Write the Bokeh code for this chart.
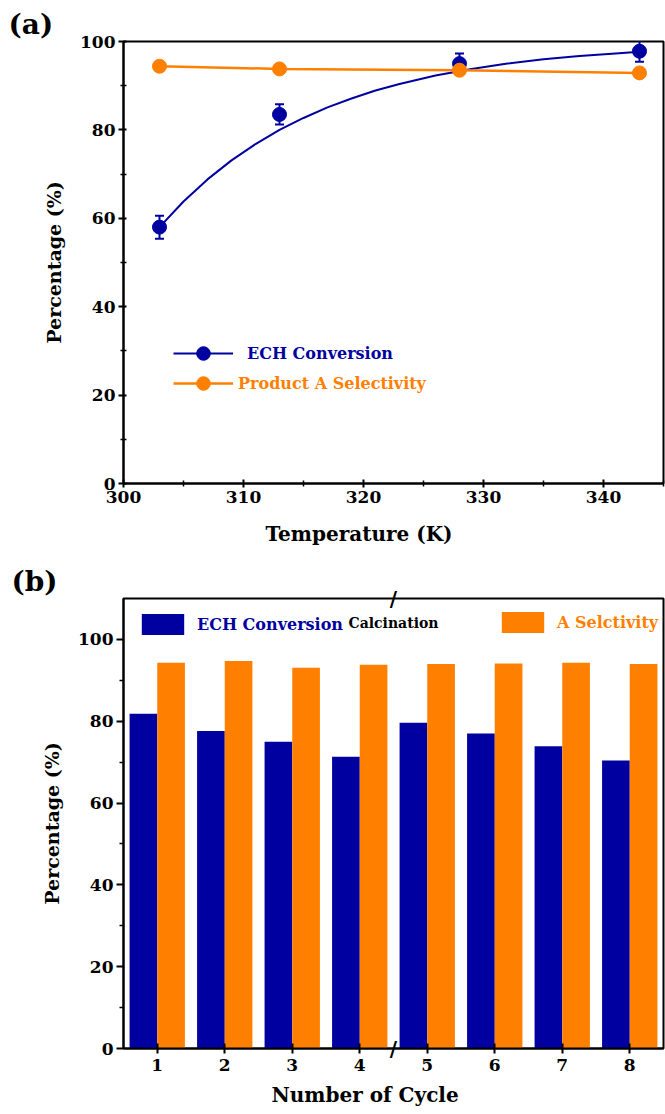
from bokeh.plotting import figure
from bokeh.layouts import column
from bokeh.models import (ColumnDataSource, Whisker, TeeHead, Legend, LegendItem,
                          Label, Range1d, FixedTicker, Title)
from bokeh.transform import dodge
from bokeh.embed import file_html
from bokeh.resources import INLINE

# ---------------- data (a) ----------------
temps = [303, 313, 328, 343]
ech_conv = [58.0, 83.5, 95.0, 97.8]
ech_err = [2.6, 2.3, 2.3, 2.4]
sel_A = [94.4, 93.8, 93.5, 92.9]
# fitted curve
fit_T = [303, 305, 307, 309, 311, 313, 315, 317, 319, 321, 323, 326, 329, 332, 335, 338, 341, 343]
fit_conv = [58.0, 63.8, 68.8, 73.1, 76.8, 80.0, 82.7, 85.1, 87.1, 88.9, 90.4, 92.3, 93.8, 95.0, 96.0, 96.7, 97.3, 97.7]
temp_ticks = [300, 310, 320, 330, 340]
temp_minor = [305, 315, 325, 335, 345]
pct_ticks_a = [0, 20, 40, 60, 80, 100]
pct_minor_a = [10, 30, 50, 70, 90]

# ---------------- data (b) ----------------
cycles = [1, 2, 3, 4, 5, 6, 7, 8]
cyc_conv = [81.8, 77.6, 75.0, 71.3, 79.6, 77.0, 73.9, 70.4]
cyc_sel = [94.3, 94.7, 93.1, 93.8, 94.0, 94.1, 94.3, 94.0]
calcination_x = 4.5
pct_ticks_b = [0, 20, 40, 60, 80, 100]
pct_minor_b = [10, 30, 50, 70, 90]

BLUE = "#0000A0"
ORANGE = "#FF8000"
FONT = "DejaVu Serif"


def style_axes(p, tick_size):
    for ax in (p.xaxis[0], p.yaxis[0]):
        ax.axis_line_width = 2
        ax.major_tick_line_width = 2
        ax.minor_tick_line_width = 1.5
        ax.major_label_text_font = FONT
        ax.major_label_text_font_style = "bold"
        ax.major_label_text_font_size = tick_size
        ax.major_label_text_color = "black"
        ax.axis_label_text_font = FONT
        ax.axis_label_text_font_style = "bold"
        ax.axis_label_text_color = "black"
    p.xgrid.visible = False
    p.ygrid.visible = False
    p.outline_line_color = "black"
    p.outline_line_width = 2
    p.title.text_font = FONT
    p.title.text_font_style = "bold"
    p.title.text_font_size = "28px"
    p.title.text_color = "black"
    p.title.align = "left"


def x_title(p, text, offset, standoff):
    p.add_layout(Title(text=text, align="left", offset=offset, standoff=standoff,
                       text_font=FONT, text_font_style="bold", text_font_size="20px",
                       text_color="black"), "below")


def make_legend(p, label, renderers, loc, color, standoff, font_size, gw, gh):
    leg = Legend(items=[LegendItem(label=label, renderers=renderers)], location=loc,
                 label_text_color=color, label_text_font=FONT, label_text_font_style="bold",
                 label_text_font_size=font_size, label_standoff=standoff,
                 glyph_width=gw, glyph_height=gh, label_height=gh,
                 padding=0, margin=0, spacing=0,
                 border_line_color=None, background_fill_alpha=0)
    p.add_layout(leg)


# ================= panel (a) =================
p1 = figure(width=665, height=560, x_range=Range1d(300, 345), y_range=Range1d(0, 100),
            output_backend="svg", toolbar_location=None,
            min_border_left=123, min_border_right=2, min_border_top=41, min_border_bottom=77,
            title="(a)")
style_axes(p1, "17px")
p1.title.offset = -115
p1.title.standoff = 2

p1.xaxis.ticker = FixedTicker(ticks=temp_ticks, minor_ticks=temp_minor)
p1.yaxis.ticker = FixedTicker(ticks=pct_ticks_a, minor_ticks=pct_minor_a)
p1.xaxis.major_tick_in = 4
p1.xaxis.major_tick_out = 4
p1.xaxis.minor_tick_in = 3
p1.xaxis.minor_tick_out = 3
p1.yaxis.major_tick_in = 3
p1.yaxis.major_tick_out = 5
p1.yaxis.minor_tick_in = 3
p1.yaxis.minor_tick_out = 3
p1.yaxis.axis_label = "Percentage (%)"
p1.yaxis.axis_label_text_font_size = "19px"
p1.xaxis.major_label_standoff = 3
p1.yaxis.major_label_standoff = 3
p1.yaxis.axis_label_standoff = 12

lower = [c - e for c, e in zip(ech_conv, ech_err)]
upper = [c + e for c, e in zip(ech_conv, ech_err)]
err_src = ColumnDataSource(dict(base=temps, lower=lower, upper=upper))
wh = Whisker(source=err_src, base="base", lower="lower", upper="upper",
             line_color=BLUE, line_width=2,
             upper_head=TeeHead(size=9, line_color=BLUE, line_width=2),
             lower_head=TeeHead(size=9, line_color=BLUE, line_width=2))
p1.add_layout(wh)

ech_line = p1.line(fit_T, fit_conv, line_color=BLUE, line_width=2)
ech_pts = p1.scatter(temps, ech_conv, size=14, fill_color=BLUE, line_color=BLUE)
sel_line = p1.line(temps, sel_A, line_color=ORANGE, line_width=2.5)
sel_pts = p1.scatter(temps, sel_A, size=14, fill_color=ORANGE, line_color=ORANGE)

make_legend(p1, "ECH Conversion", [ech_line, ech_pts], (50, 113), BLUE, 14, "16px", 60, 34)
make_legend(p1, "Product A Selectivity", [sel_line, sel_pts], (50, 83), ORANGE, 5, "16px", 60, 34)

x_title(p1, "Temperature (K)", 142, 29)

# ================= panel (b) =================
p2 = figure(width=665, height=554, x_range=Range1d(0.5, 8.5), y_range=Range1d(0, 110),
            output_backend="svg", toolbar_location=None,
            min_border_left=120, min_border_right=0, min_border_top=38, min_border_bottom=66,
            title="(b)")
style_axes(p2, "17px")
p2.title.offset = -112
p2.title.standoff = 2

p2.xaxis.ticker = FixedTicker(ticks=cycles)
p2.yaxis.ticker = FixedTicker(ticks=pct_ticks_b, minor_ticks=pct_minor_b)
p2.xaxis.major_tick_in = 5
p2.xaxis.major_tick_out = 5
p2.xaxis.minor_tick_in = 0
p2.xaxis.minor_tick_out = 0
p2.yaxis.major_tick_in = 0
p2.yaxis.major_tick_out = 7
p2.yaxis.minor_tick_in = 0
p2.yaxis.minor_tick_out = 4
p2.yaxis.axis_label = "Percentage (%)"
p2.yaxis.axis_label_text_font_size = "19px"
p2.xaxis.major_label_standoff = 5
p2.yaxis.major_label_standoff = 3
p2.yaxis.axis_label_standoff = 12

src_b = ColumnDataSource(dict(cycle=cycles, conv=cyc_conv, sel=cyc_sel))
bar_conv = p2.vbar(x=dodge("cycle", -0.205, range=p2.x_range), top="conv", width=0.41,
                   source=src_b, fill_color=BLUE, line_color=None)
bar_sel = p2.vbar(x=dodge("cycle", 0.205, range=p2.x_range), top="sel", width=0.41,
                  source=src_b, fill_color=ORANGE, line_color=None)

make_legend(p2, "ECH Conversion", [bar_conv], (13, 411), BLUE, 8, "16px", 53, 26)
make_legend(p2, "A Selctivity", [bar_sel], (373, 413), ORANGE, 8, "16px", 53, 26)

p2.add_layout(Label(x=calcination_x, y=104, text="Calcination", text_align="center",
                    text_baseline="middle", text_font=FONT, text_font_style="bold",
                    text_font_size="14px", text_color="black"))

x_title(p2, "Number of Cycle", 148, 14)

# break marks at the calcination step, on the top and bottom frame edges
# (kept in the left side panel so they are not clipped to the frame)
y_edges = [p2.y_range.end, p2.y_range.start]
for yb in y_edges:
    p2.add_layout(Label(x=calcination_x, y=yb, text="/", text_align="center",
                        text_baseline="middle", text_font=FONT, text_font_style="bold",
                        text_font_size="20px", text_color="black"), "left")

layout = column(p1, p2, spacing=0)
open("out.html", "w").write(file_html(layout, INLINE))
